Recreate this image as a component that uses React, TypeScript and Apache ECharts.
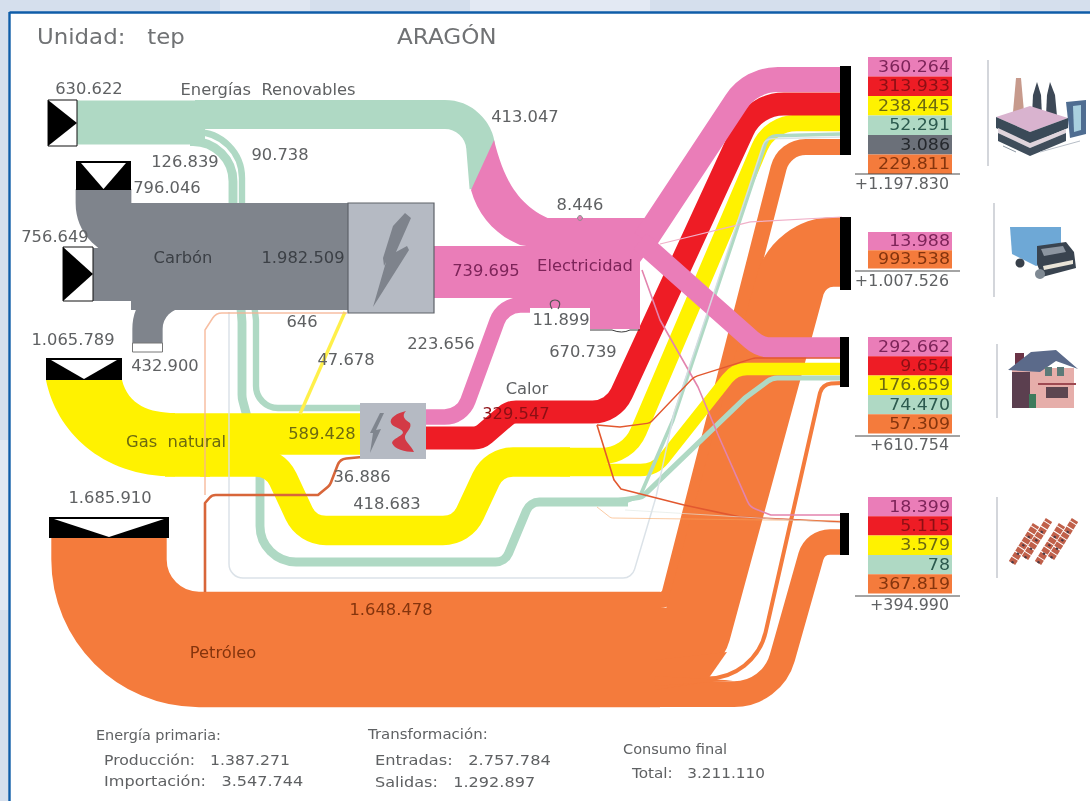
import React, { useEffect, useRef } from "react";
import * as echarts from "echarts";

// ---------- values (tep) ----------
const flowNames = [
  "renovIn", "renovElec", "renovFinal", "renovCHP",
  "carbonTop", "carbonLeft", "carbonExport", "carbonPlant",
  "gasUpper", "gasLower", "gasFinal", "gasPlant",
  "petroleo", "petroCHP", "petroPlant",
  "elecOut", "elecCHP", "calor",
  "indPink", "indRed", "indYellow", "indGreen", "indCoal", "indOrange",
  "traPink", "traOrange",
  "resPink", "resRed", "resYellow", "resGreen", "resOrange",
  "agrPink", "agrRed", "agrYellow", "agrGreen", "agrOrange",
  "elecExport",
];
const flowValues = [
  630622, 413047, 126839, 90738,
  796046, 756649, 432900, 1982509,
  589428, 476361, 418683, 47678,
  1648478, 36886, 646,
  739695, 223656, 329547,
  360264, 313933, 238445, 52291, 3086, 229811,
  13988, 993538,
  292662, 9654, 176659, 74470, 57309,
  18399, 5115, 3579, 78, 367819,
  670739,
];

const sectorLabels = [
  ["360.264", "313.933", "238.445", "52.291", "3.086", "229.811"],
  ["13.988", "993.538"],
  ["292.662", "9.654", "176.659", "74.470", "57.309"],
  ["18.399", "5.115", "3.579", "78", "367.819"],
];
const sectorRowKinds = [
  ["pink", "red", "yellow", "green", "gray", "orange"],
  ["pink", "orange"],
  ["pink", "red", "yellow", "green", "orange"],
  ["pink", "red", "yellow", "green", "orange"],
];
const sectorTotals = ["+1.197.830", "+1.007.526", "+610.754", "+394.990"];

const flowLabels: [string, number, number, string][] = [
  ["630.622", 89, 89, "muted"], ["Energías  Renovables", 268, 90, "muted"], ["413.047", 525, 117, "muted"],
  ["126.839", 185, 162, "muted"], ["90.738", 280, 155, "muted"], ["796.046", 167, 188, "muted"],
  ["756.649", 55, 237, "muted"], ["Carbón", 183, 258, "coal"], ["1.982.509", 303, 258, "coal"],
  ["739.695", 486, 271, "pink"], ["Electricidad", 585, 266, "pink"], ["8.446", 580, 205, "muted"],
  ["646", 302, 322, "muted"], ["47.678", 346, 360, "muted"], ["223.656", 441, 344, "muted"],
  ["670.739", 583, 352, "muted"], ["1.065.789", 73, 340, "muted"],
  ["432.900", 165, 366, "muted"], ["Calor", 527, 389, "muted"], ["329.547", 516, 414, "red"],
  ["Gas  natural", 176, 442, "yellow"], ["589.428", 322, 434, "yellow"], ["36.886", 362, 477, "muted"],
  ["418.683", 387, 504, "muted"], ["1.685.910", 110, 498, "muted"], ["1.648.478", 391, 610, "orange"],
  ["Petróleo", 223, 653, "orange"],
];

const summaryLabels: [string, number, number, number][] = [
  ["Energía primaria:", 96, 735, 1.03], ["Producción:   1.387.271", 104, 760, 1.12], ["Importación:   3.547.744", 104, 781, 1.15],
  ["Transformación:", 368, 734, 1.07], ["Entradas:   2.757.784", 375, 760, 1.16], ["Salidas:   1.292.897", 375, 782, 1.15],
  ["Consumo final", 623, 749, 1.04], ["Total:   3.211.110", 632, 773, 1.09],
];

// ---------- styles / layout ----------
const COLORS: Record<string, string> = {
  pink: "#ea7db8", red: "#ee1c25", yellow: "#fff200", green: "#afd9c4", gray: "#6b7079",
  coal: "#7f848c", orange: "#f47b3c", box: "#b5bac3", panel: "#ffffff", page: "#d5dfed",
};
const TEXTS: Record<string, string> = {
  muted: "#5f6163", coal: "#3c4046", pink: "#7d2459", red: "#8c0f14", yellow: "#6d6a10",
  orange: "#84340d", green: "#2c5a4e", gray: "#25282d",
};
const PX_PER_TEP = 7e-5;
const FONT = '"DejaVu Sans"';

type Pt = [number, number, number?];
// [flow name, colour, route waypoints (axis units, optional corner radius), minimum width, opacity]
const LAYER_ORANGE: [string, string, Pt[], number?, number?][] = [
  ["petroleo", COLORS.orange, [[109, 537], [109, 649.5, 90], [660, 649.5]]],
  ["indOrange", COLORS.orange, [[600, 600], [668, 600, 10], [784, 147, 28], [842, 147]]],
  ["traOrange", COLORS.orange, [[600, 642.5], [693, 642.5, 15], [799, 252, 45], [842, 252]]],
  ["resOrange", COLORS.orange, [[655, 678], [755, 679, 60], [822, 384, 12], [842, 383]]],
  ["agrOrange", COLORS.orange, [[655, 694.2], [772, 694.2, 50], [815, 542, 20], [842, 542]]],
];
const LAYER_BACK: [string, string, Pt[], number?, number?][] = [
  ["renovFinal", COLORS.green, [[190, 141.5], [233, 141.5, 40], [233, 203, 10], [242, 322, 20], [242, 398, 25], [260, 465, 25], [260, 562, 36], [505, 562, 14], [530, 502, 14], [628, 502]]],
  ["renovCHP", COLORS.green, [[190, 132], [242, 132, 46], [242, 203, 10], [256, 320, 15], [256, 408, 22], [362, 408]]],
  ["renovIn", COLORS.green, [[76, 122.5], [205, 122.5]]],
  ["renovElec", COLORS.green, [[195, 114.5], [478, 114.5, 36], [484, 188]]],
];
const LAYER_MID: [string, string, Pt[], number?, number?][] = [
  ["gasUpper", COLORS.yellow, [[165, 434], [362, 434]]],
  ["gasLower", COLORS.yellow, [[165, 460], [210, 460]]],
  ["gasFinal", COLORS.yellow, [[200, 462], [275, 462, 30], [307, 530.5, 30], [462, 530.5, 30], [494, 462, 30], [570, 462]]],
  ["indYellow", COLORS.yellow, [[560, 456], [628, 456, 40], [770, 123, 40], [842, 123]]],
  ["resYellow", COLORS.yellow, [[560, 470], [655, 470, 30], [735, 369, 25], [842, 369]]],
  ["gasPlant", "#fff04a", [[345, 312], [300, 414]]],
  ["calor", COLORS.red, [[426, 438], [480, 438, 16], [510, 412, 16], [613, 412, 32], [755, 104, 45], [842, 104]]],
  ["resGreen", COLORS.green, [[615, 501], [642, 497, 10], [745, 398, 30], [772, 378, 16], [842, 378]]],
  ["indGreen", COLORS.green, [[622, 503], [640, 496, 8], [673, 420], [768, 136, 12], [842, 134]]],
];
const LAYER_THIN: [string, string, Pt[], number?, number?][] = [
  ["indCoal", "#d7dfe6", [[229, 312], [229, 578, 14], [632, 578, 12], [656, 497], [674, 413], [765, 139, 10], [842, 137]], 1.5, 0.9],
  ["petroPlant", "#f6b392", [[347, 313], [216, 313, 11], [205, 330], [205, 495]], 1.5, 0.85],
  ["petroCHP", "#d8663a", [[362, 457], [340, 459, 10], [330, 485, 10], [318, 495], [212, 495, 8], [205, 503], [205, 592]], 2.6],
  ["resRed", "#e2582f", [[597, 425], [620, 427], [650, 423, 8], [694, 377, 14], [754, 358, 12], [842, 358]], 1.4],
  ["agrRed", "#e2582f", [[597, 425], [614, 480, 6], [621, 489], [684, 505], [740, 517, 8], [842, 522]], 1.6],
  ["agrYellow", "#f7a25b", [[597, 507], [611, 518, 5], [842, 521]], 0.8, 0.7],
  ["agrGreen", "#dfe7e3", [[625, 510], [842, 523]], 0.8, 0.8],
];
const LAYER_FRONT: [string, string, Pt[], number?, number?][] = [
  ["elecCHP", COLORS.pink, [[426, 417], [462, 417, 25], [503, 305, 25], [590, 305]]],
  ["elecOut", COLORS.pink, [[433, 272], [545, 272]]],
  ["indPink", COLORS.pink, [[645, 240], [751, 79.5, 50], [842, 79.5]]],
  ["resPink", COLORS.pink, [[640, 241], [760, 347.5, 30], [842, 347.5]]],
  ["traPink", "#f0b0c8", [[660, 244], [750, 222, 8], [842, 217]], 1.2],
  ["agrPink", "#e384ae", [[642, 270], [660, 320], [698, 387], [719, 437], [750, 507, 14], [771, 515, 5], [842, 515]], 1.6],
];

const COAL_BAND = { x: 131, x2: 348, y: 203, y2: 310 };
const PLANT_A = { x: 348, y: 203, w: 86, h: 110 };
const PLANT_B = { x: 360, y: 403, w: 66, h: 56 };
const SECTOR_ROWS = [
  { top: 57, h: 19.5, bar: [66, 155], line: 174, total: 184, barW: 11, divider: [988, 60, 166] },
  { top: 232, h: 18.2, bar: [217, 290], line: 271, total: 281, barW: 11, divider: [994, 203, 297] },
  { top: 337, h: 19.3, bar: [337, 387], line: 436, total: 445, barW: 9, divider: [997, 344, 418] },
  { top: 497, h: 19.3, bar: [513, 555], line: 596, total: 605, barW: 9, divider: [997, 497, 578] },
];

const tep = (name: string) => flowValues[flowNames.indexOf(name)];

function roundedPath(pts: number[][], radii: (number | undefined)[]) {
  let d = `M${pts[0][0]} ${pts[0][1]}`;
  for (let i = 1; i < pts.length - 1; i++) {
    const p = pts[i], a = pts[i - 1], b = pts[i + 1], r = radii[i] || 0;
    if (!r) { d += `L${p[0]} ${p[1]}`; continue; }
    const u = [a[0] - p[0], a[1] - p[1]], v = [b[0] - p[0], b[1] - p[1]];
    const lu = Math.hypot(u[0], u[1]), lv = Math.hypot(v[0], v[1]);
    const cos = (u[0] * v[0] + u[1] * v[1]) / (lu * lv);
    const ang = Math.acos(Math.max(-1, Math.min(1, cos)));
    const t = Math.min(r / Math.tan(ang / 2), lu * 0.98, lv * 0.98);
    const s = [p[0] + (u[0] / lu) * t, p[1] + (u[1] / lu) * t];
    const e = [p[0] + (v[0] / lv) * t, p[1] + (v[1] / lv) * t];
    const turn = Math.PI - ang;
    const k = (4 / 3) * Math.tan(turn / 4) * (r / t);
    const c1 = [s[0] - (u[0] / lu) * t * k, s[1] - (u[1] / lu) * t * k];
    const c2 = [e[0] - (v[0] / lv) * t * k, e[1] - (v[1] / lv) * t * k];
    d += `L${s[0]} ${s[1]}C${c1[0]} ${c1[1]} ${c2[0]} ${c2[1]} ${e[0]} ${e[1]}`;
  }
  const l = pts[pts.length - 1];
  return d + `L${l[0]} ${l[1]}`;
}

function renderAll(_: any, api: any) {
  const P = (x: number, y: number) => api.coord([x, y]) as number[];
  const kids: any[] = [];
  const rect = (x: number, y: number, w: number, h: number, fill: string, stroke?: string, lw = 1) => {
    const a = P(x, y), b = P(x + w, y + h);
    kids.push({ type: "rect", shape: { x: a[0], y: a[1], width: b[0] - a[0], height: b[1] - a[1] }, style: { fill, stroke: stroke || "none", lineWidth: lw } });
  };
  const poly = (pts: number[][], fill: string, opacity = 1) =>
    kids.push({ type: "polygon", shape: { points: pts.map((p) => P(p[0], p[1])) }, style: { fill, opacity } });
  const seg = (x1: number, y1: number, x2: number, y2: number, stroke: string, lw = 1, dash?: number[]) => {
    const a = P(x1, y1), b = P(x2, y2);
    kids.push({ type: "line", shape: { x1: a[0], y1: a[1], x2: b[0], y2: b[1] }, style: { stroke, lineWidth: lw, lineDash: dash } });
  };
  const circle = (x: number, y: number, r: number, fill: string, stroke?: string) => {
    const a = P(x, y);
    kids.push({ type: "circle", shape: { cx: a[0], cy: a[1], r }, style: { fill, stroke: stroke || "none", lineWidth: 1 } });
  };
  const text = (t: string, x: number, y: number, fill: string, size = 15, align = "center", stretch = 1.09) => {
    const a = P(x, y);
    kids.push({ type: "text", x: a[0], y: a[1], scaleX: stretch, style: { text: t, fill, fontSize: size, fontFamily: FONT, align, verticalAlign: "middle" } });
  };
  const curve = (d: string, fill: string, stroke = "none", lw = 1) =>
    kids.push({ type: "path", shape: { pathData: d }, style: { fill, stroke, lineWidth: lw } });
  const layer = (items: [string, string, Pt[], number?, number?][]) => {
    for (const [name, color, route, minW, op] of items) {
      const pts = route.map((p) => P(p[0], p[1]));
      kids.push({
        type: "path",
        shape: { pathData: roundedPath(pts, route.map((p) => p[2])) },
        style: { fill: "none", stroke: color, lineWidth: Math.max(tep(name) * PX_PER_TEP, minW || 0), opacity: op == null ? 1 : op, lineJoin: "round" },
      });
    }
  };

  // page and panel
  rect(0, 0, 1090, 801, COLORS.page);
  rect(220, 0, 90, 12, "#dfe6f1"); rect(470, 0, 180, 12, "#e3e9f3"); rect(880, 0, 120, 12, "#dbe4f0");
  rect(0, 440, 9, 170, "#e1e8f2");
  rect(10, 13, 1080, 788, COLORS.panel);
  seg(9.5, 12.5, 1090, 12.5, "#0f5da8", 2.4);
  seg(9.5, 12, 9.5, 801, "#0f5da8", 2.4);

  // flows, back to front
  layer(LAYER_ORANGE);
  poly([[655, 660], [727, 652], [706, 682], [655, 690]], COLORS.orange);
  poly([[655, 676], [733, 680.5], [655, 686]], COLORS.orange);
  layer(LAYER_BACK);
  curve(`M494 140C503 175 515 205 552 220L552 250L520 245C495 235 478 215 471 190Z`, COLORS.pink);

  // coal block
  layer([
    ["carbonTop", COLORS.coal, [[103.5, 189], [103.5, 231, 28], [140, 231]]],
    ["carbonLeft", COLORS.coal, [[92, 274.5], [140, 274.5]]],
    ["carbonExport", COLORS.coal, [[195, 293], [147.5, 293, 36], [147.5, 344]]],
  ]);
  rect(COAL_BAND.x, COAL_BAND.y, COAL_BAND.x2 - COAL_BAND.x, COAL_BAND.y2 - COAL_BAND.y, COLORS.coal);

  // gas sweep out of its import box
  curve(`M46 380C56 430 100 476.5 175 476.5L175 413C150 413 128 405 122 380Z`, COLORS.yellow);
  layer(LAYER_MID);
  // electricity hub
  poly([[538, 218], [650, 218], [654, 243], [640, 262], [640, 329], [590, 329], [590, 300], [538, 300]], COLORS.pink);
  layer(LAYER_FRONT);
  layer(LAYER_THIN);
  rect(530, 308, 60, 22, "#ffffff");
  curve(`M590 330L612 330Q622 334 630 330L640 330`, "none", "#3b3b3b", 1);
  circle(580, 218, 2.4, COLORS.pink, "#8b8b8b");
  curve(`M552 309C548 302 552 300 555 300C558 300 562 302 558 309`, "none", "#555", 1.2);

  // input boxes
  rect(48, 100, 29, 46, "#ffffff", "#111", 1);
  poly([[48, 100], [77, 123], [48, 146]], "#000");
  rect(63, 247, 30, 54, "#ffffff", "#111", 1);
  poly([[63, 247], [93, 274], [63, 301]], "#000");
  rect(76, 161, 55, 29, "#000");
  poly([[81, 163], [126, 163], [103.5, 189]], "#ffffff");
  rect(46, 358, 76, 22, "#000");
  poly([[51, 360], [117, 360], [84, 379]], "#ffffff");
  rect(49, 517, 120, 21, "#000");
  poly([[54, 519], [164, 519], [109, 537]], "#ffffff");
  rect(132.5, 343, 30, 9, "#ffffff", "#777", 1);

  // plants
  rect(PLANT_A.x, PLANT_A.y, PLANT_A.w, PLANT_A.h, COLORS.box, "#5e6269", 1.2);
  poly([[405, 213], [411, 218], [396, 252], [407, 246], [409, 250], [373, 307], [386, 262], [384, 266], [383, 258], [393, 226]], "#7e838c");
  rect(PLANT_B.x, PLANT_B.y, PLANT_B.w, PLANT_B.h, COLORS.box);
  poly([[380, 413], [384, 413], [376, 430], [381, 429], [370, 453], [373, 433], [370, 433]], "#7f858e");
  curve(`M406 411C397 413 389 418 391 423C393 428 403 428 403 433C401 437 393 438 392 443C394 449 405 452 414 452C411 445 404 441 405 436C407 431 412 428 410 423C405 420 401 416 406 411Z`, "#d33a46");

  // sector stacks
  SECTOR_ROWS.forEach((s, i) => {
    rect(840, s.bar[0], s.barW, s.bar[1] - s.bar[0], "#000");
    sectorLabels[i].forEach((t, j) => {
      const kind = sectorRowKinds[i][j];
      rect(868, s.top + j * s.h, 84, s.h, COLORS[kind]);
      text(t, 950, s.top + j * s.h + s.h / 2, TEXTS[kind], 15, "right", 1.16);
    });
    seg(855, s.line, 960, s.line, "#4b4b4b", 1.2);
    text(sectorTotals[i], 949, s.total, TEXTS.muted, 15, "right", 1.06);
    seg(s.divider[0], s.divider[1], s.divider[0], s.divider[2], "#c9ccd2", 1.6);
  });

  // factory icon
  poly([[1016, 78], [1021, 78], [1024, 112], [1013, 112]], "#c79a8c");
  poly([[1037, 82], [1041, 95], [1042, 116], [1032, 116], [1033, 95]], "#3d4856");
  poly([[1050, 82], [1055, 95], [1057, 116], [1046, 116], [1047, 95]], "#3d4856");
  poly([[1066, 102], [1086, 100], [1086, 134], [1070, 138]], "#4f6d91");
  poly([[1073, 106], [1081, 105], [1081, 130], [1074, 132]], "#a9d0df");
  poly([[996, 117], [1030, 106], [1068, 118], [1030, 132]], "#d9b3cf");
  poly([[996, 117], [1030, 132], [1068, 118], [1068, 128], [1030, 144], [996, 128]], "#3a4a58");
  poly([[998, 128], [1030, 143], [1066, 129], [1066, 133], [1030, 148], [998, 133]], "#dfd4dc");
  poly([[998, 133], [1030, 148], [1066, 133], [1066, 141], [1030, 156], [998, 141]], "#3f4d5b");
  seg(1003, 146, 1016, 152, "#8d97a3", 1); seg(1040, 152, 1080, 141, "#b7bec7", 1);
  // truck icon
  poly([[1010, 227], [1061, 227], [1061, 245], [1050, 262], [1036, 266], [1012, 254]], "#6ea8d6");
  poly([[1037, 246], [1066, 242], [1074, 252], [1076, 268], [1042, 277], [1037, 264]], "#39434f");
  poly([[1041, 249], [1063, 246], [1066, 252], [1044, 256]], "#8c95a0");
  poly([[1043, 266], [1073, 260], [1073, 264], [1044, 270]], "#e9e4d8");
  circle(1020, 263, 4.5, "#38404a"); circle(1040, 274, 5, "#7f8993");
  // house icon
  rect(1012, 368, 62, 40, "#e6aeaa");
  rect(1012, 372, 18, 36, "#5b3f4f");
  rect(1015, 353, 9, 16, "#6b3346");
  poly([[1008, 370], [1031, 352], [1056, 350], [1078, 369], [1056, 361], [1040, 372]], "#5b6a8a");
  rect(1045, 367, 7, 9, "#5c7a78"); rect(1057, 367, 7, 9, "#5c7a78");
  rect(1046, 387, 22, 11, "#5c4650");
  rect(1029, 394, 7, 14, "#3e7b5c");
  seg(1038, 384, 1076, 384, "#9e4a52", 2);
  // field icon
  [[1012, 563], [1025, 558], [1038, 563], [1051, 558]].forEach((b) => {
    seg(b[0], b[1], b[0] + 24, b[1] - 38, "#c0604a", 7.5, [5, 1]);
    seg(b[0], b[1], b[0] + 18, b[1] - 28, "#4a3a45", 2.5, [2, 8]);
  });

  // texts
  text("Unidad:   tep", 37, 37, "#707274", 21, "left", 1.09);
  text("ARAGÓN", 397, 37, "#707274", 21, "left", 1.1);
  flowLabels.forEach(([t, x, y, kind]) => text(t, x, y, TEXTS[kind]));
  text("11.899", 561, 320, TEXTS.muted);
  summaryLabels.forEach(([t, x, y, s]) => text(t, x, y, "#5f6163", 14, "left", s));

  return { type: "group", children: kids };
}

export default function App() {
  const ref = useRef<HTMLDivElement>(null);
  useEffect(() => {
    document.body.style.margin = "0";
    document.body.style.overflow = "hidden";
    const chart = echarts.init(ref.current!, undefined, { renderer: "svg" });
    chart.setOption({
      animation: false,
      grid: { left: 0, right: 0, top: 0, bottom: 0 },
      xAxis: { type: "value", min: 0, max: 1090, show: false },
      yAxis: { type: "value", min: 0, max: 801, inverse: true, show: false },
      series: [{ type: "custom", coordinateSystem: "cartesian2d", silent: true, clip: false, data: [[0, 0]], renderItem: renderAll }],
    });
    return () => chart.dispose();
  }, []);
  return <div ref={ref} style={{ width: 1090, height: 801, filter: "blur(0.5px)" }} />;
}
